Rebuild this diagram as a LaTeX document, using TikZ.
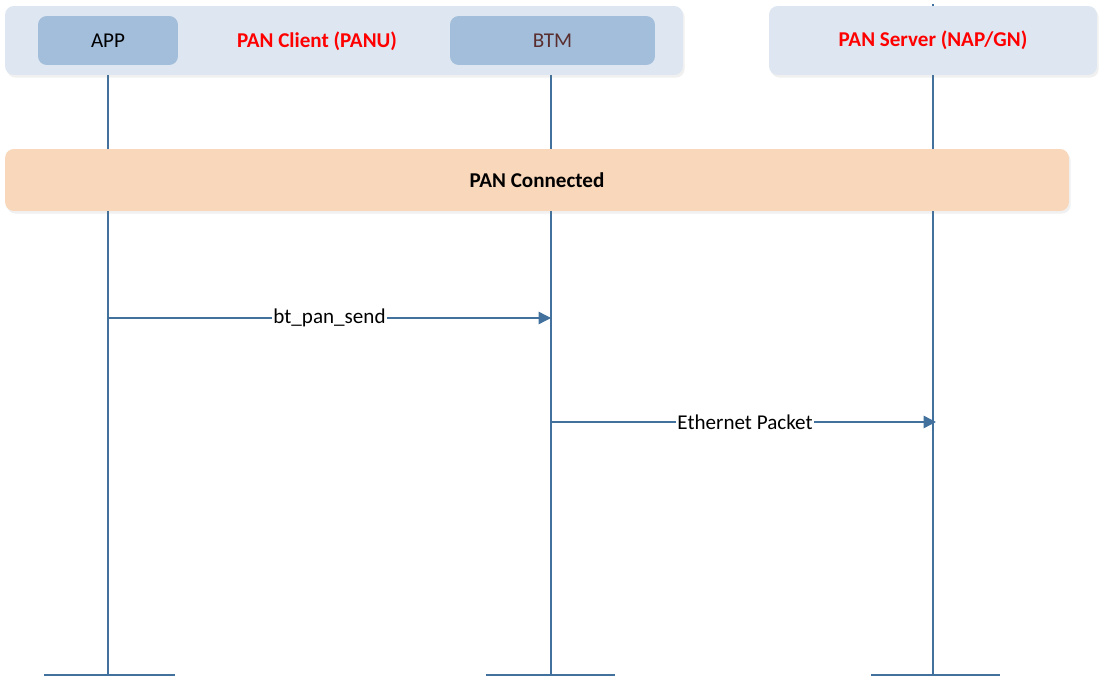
\documentclass[tikz,border=0pt]{standalone}
\usepackage{fontspec}
\setmainfont{Carlito}
\usetikzlibrary{arrows.meta,backgrounds,shadows}
\definecolor{lifeblue}{HTML}{41719C}
\definecolor{groupfill}{HTML}{DEE7F1}
\definecolor{entityfill}{HTML}{A2BEDB}
\definecolor{statefill}{HTML}{F9D7BA}
\definecolor{btmtext}{HTML}{5A2E2E}

\begin{document}
\begin{tikzpicture}[x=0.02cm,y=-0.02cm,
    font=\fontsize{12}{14}\selectfont,
    group/.style={fill=groupfill,rounded corners=5pt,inner sep=0pt,
        drop shadow={opacity=0.12,shadow xshift=1pt,shadow yshift=-1.5pt}},
    entity/.style={fill=entityfill,rounded corners=5pt,inner sep=0pt,
        minimum height=0.98cm},
    state/.style={fill=statefill,rounded corners=5pt,inner sep=0pt,
        font=\fontsize{12}{14}\selectfont\bfseries,
        drop shadow={opacity=0.12,shadow xshift=1pt,shadow yshift=-1.5pt}},
    lifeline/.style={draw=lifeblue,line width=0.8pt},
    endbar/.style={draw=lifeblue,line width=1.7pt},
    msg/.style={draw=lifeblue,line width=0.8pt,
        -{Triangle[length=7pt,width=7pt]},color=lifeblue},
    msglabel/.style={fill=white,inner sep=1pt,text=black}]
    \useasboundingbox (0,0) rectangle (1110,689);
    \node (client) [group,minimum width=13.56cm,minimum height=1.38cm] at (344,40.5) {};
    \node (server) [group,minimum width=6.56cm,minimum height=1.38cm,
        text=red,font=\fontsize{12}{14}\selectfont\bfseries] at (933,40.5) {PAN Server (NAP/GN)};
    \node (app) [entity,minimum width=2.8cm] at (108,40.5) {APP};
    \node (btm) [entity,minimum width=4.1cm,text=btmtext] at (552.5,40.5) {BTM};
    \node (clientlabel) [text=red,font=\fontsize{12}{14}\selectfont\bfseries] at (317,41) {PAN Client (PANU)};
    \node (connected) [state,minimum width=21.28cm,minimum height=1.24cm] at (537,180) {PAN Connected};
    % end points of the lifelines
    \coordinate (append) at (108,675);
    \coordinate (btmend) at (551,675);
    \coordinate (serverend) at (933,675);
    \begin{scope}[on background layer]
        \draw[lifeline] (app.south) -- (append);
        \draw[lifeline] (btm.south -| btmend) -- (btmend);
        \draw[lifeline] (933,4) -- (serverend);
    \end{scope}
    \draw[endbar] (44,675) -- (append) -- (175,675);
    \draw[endbar] (486,675) -- (btmend) -- (615,675);
    \draw[endbar] (871,675) -- (serverend) -- (1000,675);
    % messages
    \coordinate (send1) at (108,318);
    \coordinate (send2) at (551,318);
    \coordinate (eth1) at (551,422);
    \coordinate (eth2) at (936,422);
    \draw[msg] (send1) -- (send2) node[msglabel,pos=0.5] {bt\_pan\_send};
    \draw[msg] (eth1) -- (eth2) node[msglabel,pos=0.504] {Ethernet Packet};
\end{tikzpicture}
\end{document}
